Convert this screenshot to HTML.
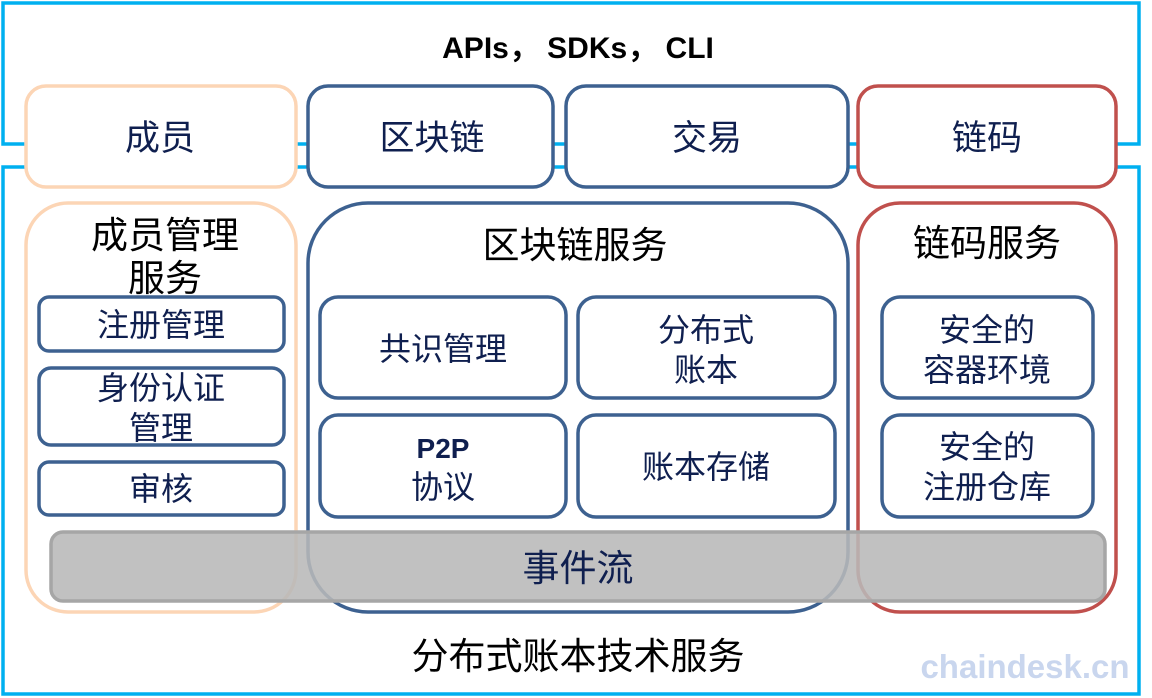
<!DOCTYPE html>
<html><head><meta charset="utf-8"><style>
html,body{margin:0;padding:0;background:#fff;}
svg{display:block;}
text{font-family:"Liberation Sans","Noto Sans CJK SC",sans-serif;text-anchor:middle;}
.n{fill:#0f1f4f;font-size:32px;}
.b{fill:#0f1f4f;font-size:35px;}
.k{fill:#000;font-size:37px;}
</style></head><body>
<svg width="1152" height="698" viewBox="0 0 1152 698" xmlns="http://www.w3.org/2000/svg">
<g fill="none" stroke="#00b0f0" stroke-width="3.5">
<path d="M25,144 H3 V3 H1139 V144 H1116"/>
<path d="M296,144 H307 M553,144 H565 M848,144 H857"/>
<path d="M25,167 H3 V694 H1139 V167 H1116"/>
<path d="M296,167 H307 M553,167 H565 M848,167 H857"/>
</g>
<text x="578" y="58" style="font-size:30px;fill:#000;font-weight:bold">APIs， SDKs，  CLI</text>
<g fill="#fff" stroke-width="3.5">
<rect x="26" y="86" width="270" height="101" rx="20" stroke="#fcd5b5"/>
<rect x="308" y="86" width="245" height="101" rx="20" stroke="#3d6190"/>
<rect x="566" y="86" width="282" height="101" rx="20" stroke="#3d6190"/>
<rect x="858" y="86" width="258" height="101" rx="20" stroke="#c0504d"/>
<rect x="26" y="203" width="270" height="409" rx="42" stroke="#fcd5b5"/>
<rect x="308" y="203" width="540" height="409" rx="60" stroke="#3d6190"/>
<rect x="858" y="203" width="258" height="409" rx="42" stroke="#c0504d"/>
<g stroke="#3d6190">
<rect x="39" y="297" width="245" height="54" rx="10"/>
<rect x="39" y="368" width="245" height="77" rx="12"/>
<rect x="39" y="462" width="245" height="53" rx="10"/>
<rect x="320" y="297" width="246" height="101" rx="18"/>
<rect x="578" y="297" width="257" height="101" rx="18"/>
<rect x="320" y="415" width="246" height="102" rx="18"/>
<rect x="578" y="415" width="257" height="102" rx="18"/>
<rect x="882" y="297" width="211" height="101" rx="18"/>
<rect x="882" y="415" width="211" height="102" rx="18"/>
</g>
</g>
<text class="b" x="160" y="150">成员</text>
<text class="b" x="432" y="150">区块链</text>
<text class="b" x="707" y="150">交易</text>
<text class="b" x="987" y="150">链码</text>
<text class="k" x="165" y="248">成员管理</text>
<text class="k" x="165" y="291">服务</text>
<text class="k" x="575" y="258">区块链服务</text>
<text class="k" x="987" y="256">链码服务</text>
<text class="n" x="161" y="336">注册管理</text>
<text class="n" x="161" y="399">身份认证</text>
<text class="n" x="161" y="439">管理</text>
<text class="n" x="161" y="500">审核</text>
<text class="n" x="443" y="360">共识管理</text>
<text class="n" x="706" y="341">分布式</text>
<text class="n" x="706" y="381">账本</text>
<text class="n" x="443" y="458" style="font-weight:bold;font-size:28px">P2P</text>
<text class="n" x="443" y="498">协议</text>
<text class="n" x="706" y="478">账本存储</text>
<text class="n" x="987" y="341">安全的</text>
<text class="n" x="987" y="381">容器环境</text>
<text class="n" x="987" y="458">安全的</text>
<text class="n" x="987" y="498">注册仓库</text>
<rect x="51" y="532" width="1054" height="69" rx="12" fill="#b8b8b8" fill-opacity="0.88" stroke="#a6a6a6" stroke-width="3.5"/>
<text class="b" x="578" y="581" style="font-size:37px">事件流</text>
<text class="k" x="578" y="669">分布式账本技术服务</text>
<text x="1025" y="678" style="font-size:33px;font-weight:bold;fill:#c9d6ee">chaindesk.cn</text>
</svg>
</body></html>
